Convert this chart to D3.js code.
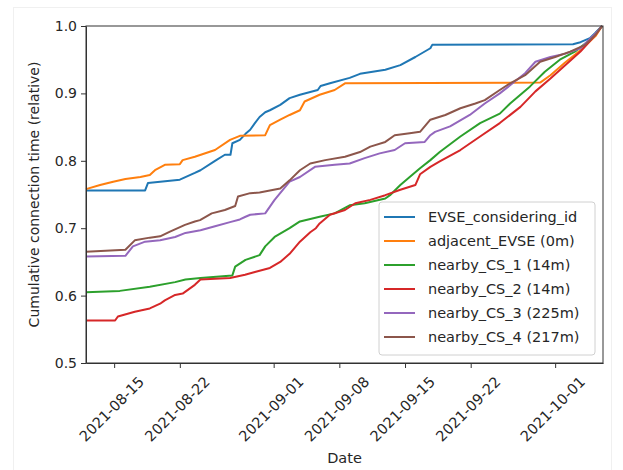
<!DOCTYPE html>
<html>
<head>
<meta charset="utf-8">
<title>Cumulative connection time</title>
<script src="https://cdn.jsdelivr.net/npm/d3@7"></script>
<style>
    body { margin: 0; background: #fff; }
    text { font-family: "DejaVu Sans", sans-serif; fill: #262626; }
    .domain, .tick line { stroke: #333; }
</style>
</head>
<body>
<script>
// days counted from startDate
var startDate = "2021-08-12";

var seriesNames = ["EVSE_considering_id", "adjacent_EVSE (0m)", "nearby_CS_1 (14m)",
    "nearby_CS_2 (14m)", "nearby_CS_3 (225m)", "nearby_CS_4 (217m)"];
var seriesColors = ["#1f77b4", "#ff7f0e", "#2ca02c", "#d62728", "#9467bd", "#8c564b"];

var evseConsidering = [[0,0.756],[6.3,0.756],[6.6,0.767],[10,0.772],[11.6,0.782],[12.2,0.786],[13.75,0.80],
    [14.8,0.809],[15.4,0.809],[15.6,0.826],[16.4,0.831],[17,0.84],[17.5,0.846],[18,0.856],[18.5,0.865],
    [19.1,0.872],[19.6,0.875],[20.7,0.883],[21.7,0.893],[22.8,0.898],[24.7,0.905],[25,0.911],[26,0.915],
    [28.1,0.923],[29.2,0.929],[31.9,0.935],[33.5,0.942],[35.1,0.954],[36.7,0.967],[36.9,0.972],[51.9,0.973],
    [52.7,0.976],[53.7,0.982],[54.3,0.99],[55,1.0]];
var adjacentEvse = [[0,0.758],[1.5,0.764],[2.9,0.769],[4.2,0.773],[5.8,0.776],[6.8,0.779],[7.35,0.786],
    [8.4,0.794],[10,0.795],[10.3,0.801],[11.6,0.806],[13.75,0.816],[15.35,0.831],[16.4,0.837],[19.1,0.838],
    [19.6,0.853],[20.7,0.861],[21.7,0.868],[22.8,0.875],[23.3,0.888],[24.9,0.898],[26.5,0.905],[27.6,0.915],
    [48.4,0.916],[49.5,0.927],[51,0.945],[52.7,0.964],[54.3,0.985],[55,1.0]];
var nearbyCs1 = [[0,0.605],[3.6,0.607],[6.8,0.613],[9.5,0.62],[10.6,0.624],[12.2,0.626],[15.6,0.63],[15.9,0.643],
    [17,0.653],[18.5,0.66],[19.1,0.673],[20.1,0.687],[21.7,0.70],[22.8,0.71],[24.9,0.717],[26.5,0.722],
    [28.1,0.734],[29.7,0.737],[31.9,0.744],[32.4,0.749],[33.5,0.764],[34.5,0.776],[35.6,0.789],[36.7,0.801],
    [37.7,0.813],[39.9,0.836],[42,0.856],[44.1,0.87],[45.2,0.885],[47.3,0.91],[48.9,0.932],[50.5,0.95],
    [52.1,0.962],[53.7,0.979],[55,1.0]];
var nearbyCs2 = [[0,0.563],[3.1,0.563],[3.4,0.569],[5.2,0.576],[6.8,0.581],[7.9,0.588],[8.4,0.593],[9.5,0.601],
    [10.3,0.603],[11.6,0.616],[12.2,0.624],[15.35,0.626],[16.95,0.631],[18,0.635],[19.6,0.641],[20.7,0.65],
    [21.7,0.662],[22.8,0.68],[23.9,0.694],[24.5,0.70],[24.9,0.707],[26,0.72],[27.6,0.727],[28.7,0.737],
    [30.3,0.742],[31.9,0.749],[33.5,0.757],[35.1,0.764],[35.6,0.78],[36.7,0.791],[37.7,0.799],[39.9,0.816],
    [42,0.836],[44.1,0.856],[46.3,0.88],[47.9,0.903],[49.5,0.922],[51.1,0.942],[52.7,0.962],[54.3,0.987],[55,1.0]];
var nearbyCs3 = [[0,0.658],[4.2,0.659],[5,0.673],[6.3,0.68],[7.9,0.682],[9.5,0.687],[10.6,0.693],[12.2,0.697],
    [13.75,0.703],[15.35,0.709],[16.4,0.713],[17,0.717],[17.5,0.72],[19.1,0.722],[20.1,0.742],[21.7,0.769],
    [22.8,0.776],[24.4,0.791],[26.5,0.794],[28.1,0.796],[29.7,0.804],[31.3,0.811],[32.9,0.816],[34,0.826],
    [36.1,0.828],[36.7,0.838],[37.2,0.843],[38.8,0.851],[40.9,0.868],[42.5,0.885],[44.1,0.90],[45.2,0.912],
    [46.8,0.93],[47.9,0.947],[49.5,0.954],[51.1,0.959],[52.7,0.967],[54.3,0.989],[55,1.0]];
var nearbyCs4 = [[0,0.665],[4.2,0.668],[5.2,0.682],[6.8,0.686],[7.9,0.688],[8.95,0.695],[10.55,0.705],[11.6,0.71],
    [12.15,0.712],[13.4,0.722],[14.8,0.727],[15.9,0.733],[16.2,0.747],[17.5,0.752],[18.5,0.753],[20.7,0.759],
    [21.7,0.771],[22.8,0.786],[23.9,0.796],[25.5,0.801],[27.6,0.806],[29.2,0.813],[30.3,0.821],[31.9,0.828],
    [32.9,0.838],[34.5,0.841],[35.6,0.843],[36.7,0.861],[38.3,0.868],[39.9,0.878],[41.5,0.885],[42.5,0.89],
    [44.1,0.905],[45.2,0.915],[46.8,0.927],[48.4,0.947],[50,0.954],[51.6,0.962],[53.2,0.972],[54.3,0.987],[55,1.0]];

var allSeries = [evseConsidering, adjacentEvse, nearbyCs1, nearbyCs2, nearbyCs3, nearbyCs4];

var xTickDates = ["2021-08-15", "2021-08-22", "2021-09-01", "2021-09-08", "2021-09-15", "2021-09-22", "2021-10-01"];
var yTicks = [0.5, 0.6, 0.7, 0.8, 0.9, 1.0];

var width = 623, height = 470;
var margin = { left: 86, top: 26, right: 20, bottom: 107 };
var parseDay = d3.timeParse("%Y-%m-%d");
var t0 = parseDay(startDate);
function toDate(d) { return new Date(t0.getTime() + d * 864e5); }

var svg = d3.select("body").append("svg")
    .attr("width", width)
    .attr("height", height);

// faint outer frame of the screenshot
svg.append("rect")
    .attr("x", 13.5).attr("y", 7.5)
    .attr("width", 598).attr("height", 470)
    .attr("fill", "#fff")
    .attr("stroke", "#f0f0f0");

var x = d3.scaleTime()
    .domain([toDate(0), toDate(55.1)])
    .range([margin.left, width - margin.right]);
var y = d3.scaleLinear()
    .domain([0.5, 1.0])
    .range([height - margin.bottom, margin.top]);

var line = d3.line()
    .x(function (d) { return x(toDate(d[0])); })
    .y(function (d) { return y(d[1]); });

svg.append("g").selectAll(".series")
    .data(allSeries)
    .enter().append("path")
    .attr("class", "series")
    .attr("fill", "none")
    .attr("stroke", function (d, i) { return seriesColors[i]; })
    .attr("stroke-width", 2)
    .attr("stroke-linejoin", "round")
    .attr("d", line);

// axes
var gx = svg.append("g")
    .attr("transform", "translate(0," + (height - margin.bottom) + ")")
    .call(d3.axisBottom(x)
        .tickValues(xTickDates.map(function (s) { return parseDay(s); }))
        .tickFormat(d3.timeFormat("%Y-%m-%d"))
        .tickSize(5).tickSizeOuter(0));
gx.selectAll(".tick text")
    .attr("x", 0).attr("y", 0).attr("dy", "0.35em")
    .style("font-size", "14.5px")
    .style("text-anchor", "middle")
    .attr("transform", "translate(-3,46) rotate(-45)");

var gy = svg.append("g")
    .attr("transform", "translate(" + margin.left + ",0)")
    .call(d3.axisLeft(y)
        .tickValues(yTicks)
        .tickFormat(d3.format(".1f"))
        .tickSize(5).tickSizeOuter(0));
gy.selectAll(".tick text").attr("x", -9).style("font-size", "14px");

svg.selectAll(".tick text").style("font-family", "'DejaVu Sans'").attr("fill", "#262626");

// top and right spines
svg.append("rect")
    .attr("x", margin.left).attr("y", margin.top)
    .attr("width", width - margin.right - margin.left)
    .attr("height", height - margin.bottom - margin.top)
    .attr("fill", "none")
    .attr("stroke", "#333")
    .attr("stroke-width", 1);

svg.append("text")
    .attr("x", (margin.left + width - margin.right) / 2)
    .attr("y", 463)
    .attr("text-anchor", "middle")
    .style("font-size", "14.5px")
    .text("Date");

svg.append("text")
    .attr("transform", "translate(39," + ((margin.top + height - margin.bottom) / 2) + ") rotate(-90)")
    .attr("text-anchor", "middle")
    .style("font-size", "14px")
    .text("Cumulative connection time (relative)");

// legend
var lg = svg.append("g").attr("transform", "translate(379,202)");
lg.append("rect")
    .attr("width", 216).attr("height", 153)
    .attr("rx", 3).attr("ry", 3)
    .attr("fill", "#fff").attr("fill-opacity", 0.85)
    .attr("stroke", "#d0d0d0");
var items = lg.selectAll(".item")
    .data(seriesNames)
    .enter().append("g")
    .attr("transform", function (d, i) { return "translate(0," + (15 + i * 24) + ")"; });
items.append("line")
    .attr("x1", 5).attr("x2", 36)
    .attr("stroke", function (d, i) { return seriesColors[i]; })
    .attr("stroke-width", 2);
items.append("text")
    .attr("x", 49).attr("dy", "0.35em")
    .style("font-size", "14.5px")
    .text(function (d) { return d; });
</script>
</body>
</html>
